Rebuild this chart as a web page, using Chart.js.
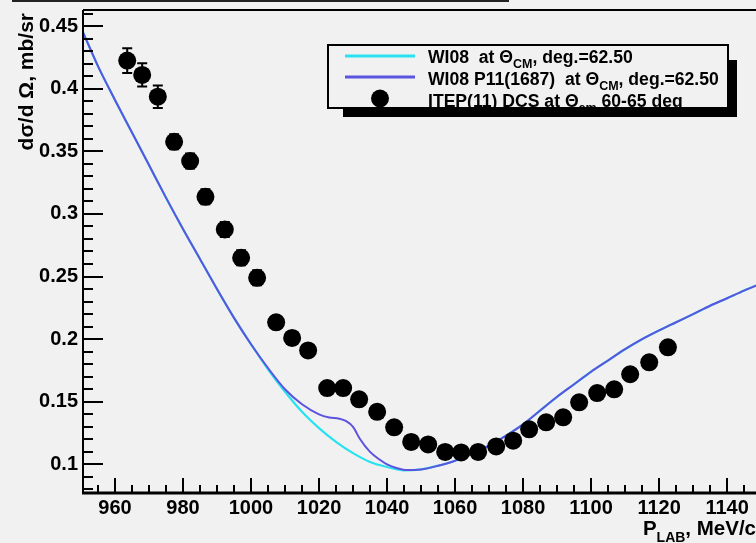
<!DOCTYPE html>
<html><head><meta charset="utf-8">
<script src="https://cdn.jsdelivr.net/npm/chart.js@4.4.1/dist/chart.umd.min.js"></script>
<style>html,body{margin:0;padding:0;background:#f1f1f1;overflow:hidden}#wrap{width:756px;height:543px;position:relative}</style>
</head><body><div id="wrap"><canvas id="c" width="756" height="543"></canvas></div>
<script>
// ---- data ----
const xTicks = [960, 980, 1000, 1020, 1040, 1060, 1080, 1100, 1120, 1140];
const xTickLabels = ['960','980','1000','1020','1040','1060','1080','1100','1120','1140'];
const yTicks = [0.1, 0.15, 0.2, 0.25, 0.3, 0.35, 0.4, 0.45];
const yTickLabels = ['0.1','0.15','0.2','0.25','0.3','0.35','0.4','0.45'];

const wi08X = [950.6, 955, 960, 965, 970, 975, 980, 985, 990, 995, 1000, 1005, 1010, 1015, 1020, 1025, 1030, 1035, 1040, 1045, 1050, 1055, 1060, 1065, 1070, 1075, 1080, 1085, 1090, 1095, 1100, 1105, 1110, 1115, 1120, 1125, 1130, 1135, 1140, 1145, 1150];
const wi08Y = [0.445, 0.418, 0.391, 0.365, 0.339, 0.313, 0.288, 0.264, 0.240, 0.217, 0.196, 0.176, 0.158, 0.142, 0.129, 0.118, 0.109, 0.102, 0.098, 0.0952, 0.096, 0.099, 0.103, 0.1086, 0.115, 0.123, 0.132, 0.143, 0.154, 0.164, 0.174, 0.183, 0.192, 0.200, 0.207, 0.2135, 0.220, 0.2267, 0.2327, 0.2388, 0.2445];

const p11X = [950.6, 955, 960, 965, 970, 975, 980, 985, 990, 995, 1000, 1005, 1010, 1015, 1020, 1023, 1026, 1028, 1030, 1032, 1035, 1038, 1040, 1043, 1046, 1050, 1055, 1060, 1065, 1070, 1075, 1080, 1085, 1090, 1095, 1100, 1105, 1110, 1115, 1120, 1125, 1130, 1135, 1140, 1145, 1150];
const p11Y = [0.445, 0.418, 0.391, 0.365, 0.339, 0.313, 0.288, 0.264, 0.240, 0.217, 0.196, 0.177, 0.160, 0.148, 0.140, 0.1375, 0.1365, 0.1345, 0.130, 0.1205, 0.110, 0.1035, 0.1000, 0.0970, 0.0955, 0.096, 0.099, 0.103, 0.1086, 0.115, 0.123, 0.132, 0.143, 0.154, 0.164, 0.174, 0.183, 0.192, 0.200, 0.207, 0.2135, 0.220, 0.2267, 0.2327, 0.2388, 0.2445];

const itepX = [963.6, 968.0, 972.6, 977.4, 982.1, 986.6, 992.3, 997.1, 1001.8, 1007.4, 1012.1, 1016.8, 1022.4, 1027.1, 1031.8, 1037.1, 1042.1, 1047.1, 1052.1, 1057.1, 1061.8, 1066.8, 1072.1, 1077.1, 1081.8, 1086.8, 1091.8, 1096.5, 1101.8, 1106.8, 1111.5, 1117.1, 1122.6];
const itepY = [0.4224, 0.411, 0.3936, 0.3576, 0.3422, 0.3137, 0.2876, 0.265, 0.249, 0.2135, 0.201, 0.191, 0.161, 0.161, 0.152, 0.142, 0.1296, 0.118, 0.116, 0.110, 0.1096, 0.110, 0.1144, 0.119, 0.128, 0.1336, 0.1376, 0.1496, 0.157, 0.160, 0.172, 0.1815, 0.1935];
const itepErr = [0.0098, 0.0093, 0.0090, 0.006, 0.006, 0.006, 0.006, 0.006, 0.006, 0.005, 0.005, 0.005, 0.005, 0.005, 0.005, 0.005, 0.005, 0.005, 0.005, 0.005, 0.005, 0.005, 0.005, 0.005, 0.005, 0.005, 0.005, 0.005, 0.005, 0.005, 0.005, 0.005, 0.005];

const legendLabels = ['WI08  at \u0398', 'WI08 P11(1687)  at \u0398', 'ITEP(11) DCS at \u0398'];

// ---- styling ----
const BG = '#f1f1f1';
const CYAN = 'rgb(40,226,240)';
const VIOLET = 'rgb(92,84,222)';
const FONT = '"Liberation Sans", Arial, Helvetica, sans-serif';

const zip = (xs, ys) => xs.map((x, i) => ({x, y: ys[i]}));

const bgPlugin = {
  id: 'bg',
  beforeDraw(chart) {
    const c = chart.ctx;
    c.save(); c.fillStyle = BG; c.fillRect(0, 0, chart.width, chart.height); c.restore();
  }
};

const axesPlugin = {
  id: 'axes',
  afterDatasetsDraw(chart) {
    const c = chart.ctx, a = chart.chartArea, xs = chart.scales.x, ys = chart.scales.y;
    c.save();
    // error bars
    c.strokeStyle = '#000'; c.lineWidth = 2;
    itepX.forEach((xv, i) => {
      const px = xs.getPixelForValue(xv);
      const y1 = ys.getPixelForValue(itepY[i] + itepErr[i]);
      const y2 = ys.getPixelForValue(itepY[i] - itepErr[i]);
      c.beginPath(); c.moveTo(px, y1); c.lineTo(px, y2);
      c.moveTo(px - 5, y1); c.lineTo(px + 5, y1);
      c.moveTo(px - 5, y2); c.lineTo(px + 5, y2);
      c.stroke();
    });
    // frame lines
    c.lineWidth = 2;
    c.beginPath(); c.moveTo(a.left, a.top); c.lineTo(a.right, a.top); c.stroke();
    c.beginPath(); c.moveTo(a.left, a.top); c.lineTo(a.left, a.bottom); c.stroke();
    c.lineWidth = 3;
    c.beginPath(); c.moveTo(a.left - 1, a.bottom); c.lineTo(a.right, a.bottom); c.stroke();
    // x ticks (inward)
    c.lineWidth = 2;
    for (let v = 955; v <= xs.max; v += 5) {
      const px = Math.round(xs.getPixelForValue(v));
      const major = xTicks.includes(v);
      c.beginPath(); c.moveTo(px, a.bottom); c.lineTo(px, a.bottom - (major ? 15 : 8)); c.stroke();
    }
    // y ticks (inward)
    for (let k = 8; k <= 46; k++) {
      const v = k / 100;
      if (v < ys.min || v > ys.max) continue;
      const py = Math.round(ys.getPixelForValue(v));
      const major = (k % 5 === 0);
      c.beginPath(); c.moveTo(a.left, py); c.lineTo(a.left + (major ? 20 : 10), py); c.stroke();
    }
    c.restore();
  }
};

function drawRich(c, parts, x, y, size, subSize, subDy) {
  let cx = x;
  parts.forEach(p => {
    c.font = 'bold ' + (p.sub ? subSize : size) + 'px ' + FONT;
    c.fillText(p.t, cx, y + (p.sub ? subDy : 0));
    cx += c.measureText(p.t).width;
  });
  return cx;
}
function richWidth(c, parts, size, subSize) {
  let w = 0;
  parts.forEach(p => { c.font = 'bold ' + (p.sub ? subSize : size) + 'px ' + FONT; w += c.measureText(p.t).width; });
  return w;
}

const overlayPlugin = {
  id: 'overlay',
  afterDraw(chart) {
    const c = chart.ctx;
    c.save();
    // top strip line (remains of title box)
    c.strokeStyle = '#222'; c.lineWidth = 2;
    c.beginPath(); c.moveTo(12, 1); c.lineTo(509, 1); c.stroke();

    // legend box with shadow
    const bx = 328, by = 45, bw = 400, bh = 63;
    c.fillStyle = '#000';
    c.fillRect(bx + 15, by + 15, bw - 6, bh - 6);
    c.fillStyle = BG;
    c.fillRect(bx, by, bw, bh);
    c.save();
    c.beginPath(); c.rect(bx + 1, by + 1, bw - 2, bh - 2); c.clip();
    c.lineWidth = 3;
    c.strokeStyle = CYAN;
    c.beginPath(); c.moveTo(345, 56); c.lineTo(415, 56); c.stroke();
    c.strokeStyle = VIOLET;
    c.beginPath(); c.moveTo(345, 77); c.lineTo(415, 77); c.stroke();
    c.fillStyle = '#000';
    c.beginPath(); c.arc(380, 98.5, 9, 0, Math.PI * 2); c.fill();
    c.textBaseline = 'alphabetic'; c.textAlign = 'left';
    c.fillStyle = '#000';
    drawRich(c, [{t: legendLabels[0]}, {t: 'CM', sub: true}, {t: ', deg.=62.50'}], 428, 63, 17.6, 12.5, 5);
    drawRich(c, [{t: legendLabels[1]}, {t: 'CM', sub: true}, {t: ', deg.=62.50'}], 428, 85, 17.6, 12.5, 5);
    drawRich(c, [{t: legendLabels[2]}, {t: 'cm', sub: true}, {t: ' 60-65 deg'}], 428, 107, 17.6, 12.5, 5);
    c.restore();
    c.strokeStyle = '#000'; c.lineWidth = 2;
    c.strokeRect(bx, by, bw, bh);

    // axis titles
    c.fillStyle = '#000';
    c.textBaseline = 'alphabetic';
    const xt = [{t: 'P'}, {t: 'LAB', sub: true}, {t: ', MeV/c'}];
    const w = richWidth(c, xt, 20.5, 14);
    drawRich(c, xt, 756 - w, 535, 20.5, 14, 7);

    c.save();
    c.translate(33, 13);
    c.rotate(-Math.PI / 2);
    c.textAlign = 'right';
    c.font = 'bold 21px ' + FONT;
    c.fillText('d\u03c3/d \u03a9, mb/sr', 0, 0);
    c.restore();
    c.restore();
  }
};

const tickFont = {family: FONT, size: 20, weight: 'bold'};

new Chart(document.getElementById('c'), {
  type: 'scatter',
  data: {
    datasets: [
      {label: 'ITEP', data: zip(itepX, itepY), pointRadius: 9, pointHoverRadius: 9,
       pointBackgroundColor: '#000', pointBorderColor: '#000', pointBorderWidth: 0, showLine: false, order: 0},
      {label: 'P11', data: zip(p11X, p11Y), showLine: true, pointRadius: 0, borderColor: VIOLET,
       borderWidth: 2, cubicInterpolationMode: 'monotone', fill: false, order: 1},
      {label: 'WI08', data: zip(wi08X, wi08Y), showLine: true, pointRadius: 0, borderColor: CYAN,
       borderWidth: 2.2, cubicInterpolationMode: 'monotone', fill: false, order: 2}
    ]
  },
  options: {
    responsive: false, animation: false, devicePixelRatio: 1,
    layout: {autoPadding: false, padding: {top: 10, right: 0, left: 0, bottom: 0}},
    plugins: {legend: {display: false}, tooltip: {enabled: false}},
    events: [],
    scales: {
      x: {
        type: 'linear', min: 950.6, max: 1148.5,
        afterBuildTicks: s => { s.ticks = xTicks.map(v => ({value: v})); },
        afterFit: s => { s.height = 50; s.paddingLeft = 0; s.paddingRight = 0; },
        grid: {display: false, drawTicks: false}, border: {display: false},
        ticks: {padding: 3, font: tickFont, color: '#000', autoSkip: false, maxRotation: 0,
                callback: (v, i) => xTickLabels[i]}
      },
      y: {
        type: 'linear', min: 0.0772, max: 0.4628,
        afterBuildTicks: s => { s.ticks = yTicks.map(v => ({value: v})); },
        afterFit: s => { s.width = 83; s.paddingTop = 0; s.paddingBottom = 0; },
        grid: {display: false, drawTicks: false}, border: {display: false},
        ticks: {padding: 5, font: tickFont, color: '#000', autoSkip: false,
                callback: (v, i) => yTickLabels[i]}
      }
    }
  },
  plugins: [bgPlugin, axesPlugin, overlayPlugin]
});
</script></body></html>
